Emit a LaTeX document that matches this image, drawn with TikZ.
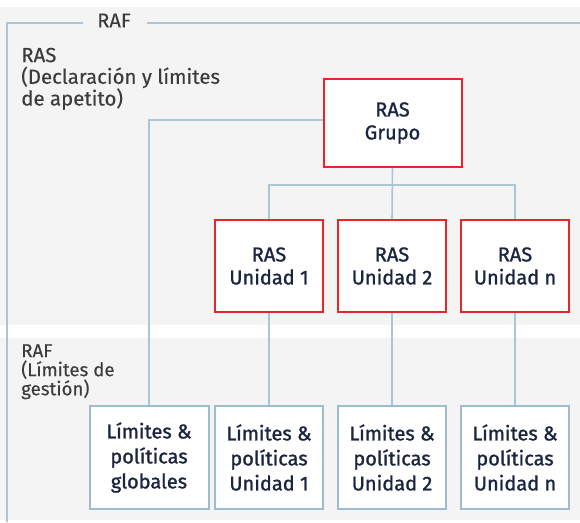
\documentclass[tikz,border=0pt]{standalone}
\usepackage{fontspec}
\setmainfont{Fira Sans}
\newfontfamily\boxfont{Fira Sans}[FakeBold=1.2]
\newfontfamily\lblfont{Fira Sans}[FakeBold=0.3]
\definecolor{bggrey}{HTML}{F4F4F4}
\definecolor{framebl}{HTML}{A8C6D6}
\definecolor{boxred}{HTML}{E8252B}
\definecolor{boxbl}{HTML}{9DBCCE}
\definecolor{txtnavy}{HTML}{1C2540}
\definecolor{txtgrey}{HTML}{3C3C3C}
\tikzset{
  rasbox/.style={draw=boxred, line width=1.5pt, fill=white, align=center,
    text=txtnavy, font=\boxfont\fontsize{15}{17.25}\selectfont, inner sep=0pt},
  limbox/.style={draw=boxbl, line width=1.5pt, fill=white, align=center,
    text=txtnavy, font=\boxfont\fontsize{15}{18.75}\selectfont, inner sep=0pt,
    minimum height=77.25pt},
  conn/.style={draw=framebl, line width=1.2pt},
  lbl/.style={text=txtgrey, align=left, inner sep=0pt, anchor=north west}
}
\begin{document}
\begin{tikzpicture}[x=0.75pt,y=-0.75pt]
\useasboundingbox (0,0) rectangle (580,522);
\fill[white] (0,0) rectangle (580,522);
\fill[bggrey] (0,7) rectangle (580,325);
\fill[bggrey] (0,338) rectangle (580,520);
% frame
\coordinate (fa) at (83,22.6);
\coordinate (fb) at (7,22.6);
\coordinate (fc) at (7,522);
\coordinate (fd) at (147,22.6);
\coordinate (fe) at (580,22.6);
\draw[framebl, line width=1.5pt] (fa) -- (fb) -- (fc);
\draw[framebl, line width=1.5pt] (fd) -- (fe);
\node[text=txtgrey, font=\lblfont\fontsize{15}{17}\selectfont] (raf) at (114,20.5) {RAF};
% labels
\node[lbl, font=\lblfont\fontsize{15.3}{16.3}\selectfont] (lab1) at (21,47.5) {RAS\\(Declaración y límites\\de apetito)};
\node[lbl, font=\lblfont\fontsize{14}{14.3}\selectfont] (lab2) at (21,344) {RAF\\(Límites de\\gestión)};
% RAS boxes
\node[rasbox, minimum width=103.5pt, minimum height=66pt] (grupo) at (392.5,123) {RAS\\Grupo};
\node[rasbox, minimum width=81pt, minimum height=69pt] (u1) at (269,266) {RAS\\Unidad 1};
\node[rasbox, minimum width=81pt, minimum height=69pt] (u2) at (392,266) {RAS\\Unidad 2};
\node[rasbox, minimum width=81pt, minimum height=69pt] (un) at (515,266) {RAS\\Unidad n};
% limit boxes
\node[limbox, minimum width=89.25pt] (lg) at (149,457.5) {Límites \&\\políticas\\globales};
\node[limbox, minimum width=81pt] (l1) at (269,457.5) {Límites \&\\políticas\\Unidad 1};
\node[limbox, minimum width=81pt] (l2) at (392,457.5) {Límites \&\\políticas\\Unidad 2};
\node[limbox, minimum width=81pt] (ln) at (515,457.5) {Límites \&\\políticas\\Unidad n};
% connectors
\coordinate (bus) at (392,185);
\path[conn] ([yshift=2.25pt]grupo.west) -| (lg.north);
\path[conn] (grupo.south) -- (u2.north);
\path[conn] (u1.north) |- (bus) -| (un.north);
\path[conn] (u1.south) -- (l1.north);
\path[conn] (u2.south) -- (l2.north);
\path[conn] (un.south) -- (ln.north);
\end{tikzpicture}
\end{document}
